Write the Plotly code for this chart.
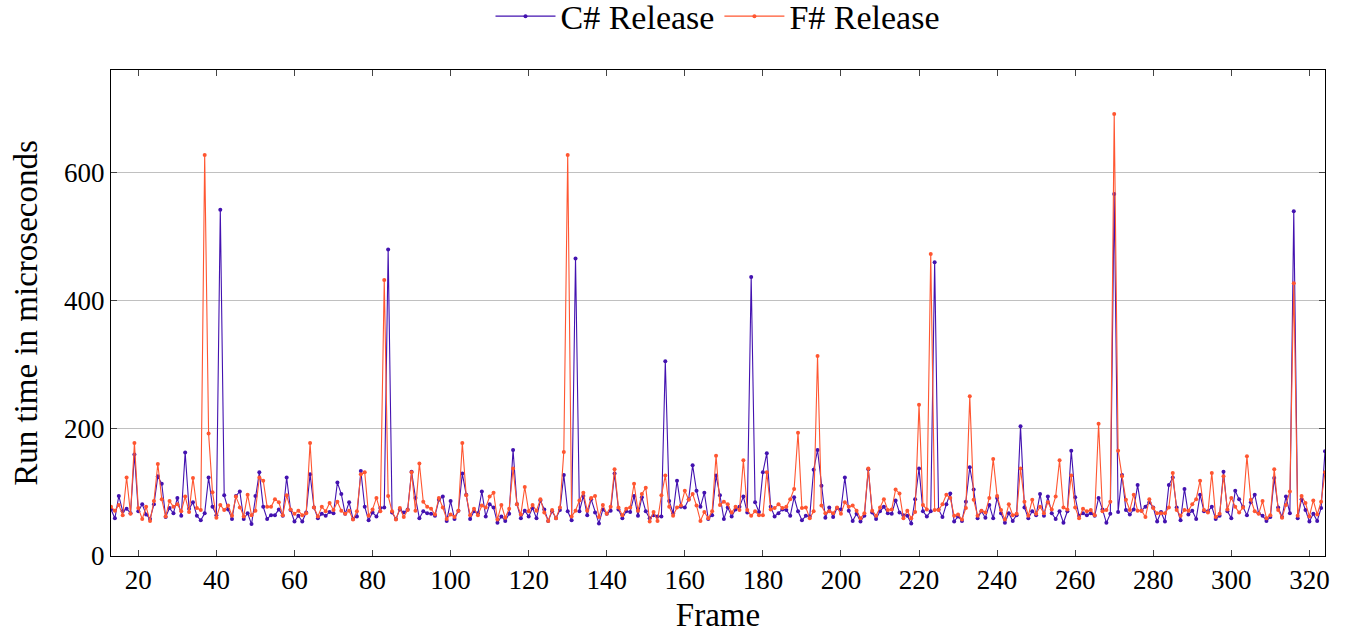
import plotly.graph_objects as go

frames = list(range(13, 325))

csharp = [
    73, 59, 94, 70, 74, 67, 159, 70, 81, 65,
    58, 81, 125, 113, 61, 75, 67, 91, 63, 162,
    74, 84, 63, 56, 67, 123, 77, 64, 542, 95,
    73, 58, 94, 101, 58, 67, 50, 94, 131, 77,
    58, 64, 64, 73, 63, 123, 72, 54, 63, 54,
    68, 128, 76, 59, 66, 63, 69, 67, 115, 97,
    66, 84, 58, 62, 133, 77, 56, 68, 62, 75,
    76, 480, 68, 58, 73, 68, 73, 132, 91, 59,
    70, 67, 66, 63, 88, 93, 55, 86, 58, 71,
    129, 96, 58, 70, 67, 101, 62, 81, 76, 52,
    62, 55, 66, 166, 81, 59, 71, 62, 75, 59,
    87, 73, 55, 70, 59, 72, 127, 70, 56, 466,
    70, 94, 64, 89, 68, 51, 73, 66, 71, 129,
    73, 59, 70, 69, 94, 63, 92, 70, 59, 64,
    62, 62, 305, 86, 67, 118, 77, 76, 89, 142,
    102, 77, 99, 58, 64, 126, 95, 58, 76, 62,
    73, 77, 93, 68, 437, 84, 69, 131, 161, 77,
    62, 67, 73, 72, 63, 92, 70, 56, 63, 62,
    135, 166, 110, 60, 76, 61, 75, 73, 123, 71,
    55, 66, 54, 63, 136, 68, 58, 70, 77, 67,
    66, 87, 68, 64, 63, 51, 89, 137, 70, 62,
    70, 460, 73, 61, 81, 98, 54, 62, 55, 85,
    139, 104, 59, 70, 60, 80, 59, 91, 67, 52,
    67, 55, 64, 203, 76, 59, 70, 64, 97, 63,
    93, 67, 58, 70, 52, 70, 165, 92, 63, 67,
    64, 67, 63, 91, 73, 52, 66, 567, 69, 127,
    72, 65, 73, 111, 71, 77, 84, 76, 54, 69,
    54, 111, 123, 76, 56, 105, 65, 71, 58, 96,
    70, 70, 77, 58, 63, 132, 70, 59, 102, 89,
    77, 64, 84, 96, 67, 63, 55, 61, 122, 76,
    61, 93, 67, 540, 59, 89, 72, 54, 66, 55,
    75, 164,
]

fsharp = [
    77, 71, 80, 64, 123, 66, 177, 75, 58, 77,
    55, 86, 144, 89, 62, 86, 77, 81, 70, 93,
    69, 122, 75, 72, 628, 192, 100, 60, 80, 72,
    79, 63, 93, 76, 62, 96, 64, 71, 123, 118,
    77, 77, 89, 84, 64, 95, 73, 66, 71, 64,
    67, 177, 76, 62, 77, 70, 83, 72, 85, 71,
    66, 71, 57, 70, 128, 131, 63, 73, 91, 70,
    432, 94, 70, 57, 75, 61, 72, 131, 71, 145,
    85, 77, 74, 65, 91, 76, 58, 65, 61, 71,
    177, 95, 64, 74, 64, 79, 76, 93, 99, 57,
    80, 60, 74, 137, 81, 65, 108, 70, 80, 71,
    89, 68, 55, 72, 59, 76, 163, 628, 62, 71,
    87, 99, 71, 91, 94, 61, 80, 66, 77, 136,
    76, 64, 74, 76, 113, 71, 97, 107, 54, 69,
    55, 95, 126, 77, 63, 76, 79, 102, 88, 97,
    79, 55, 69, 59, 70, 157, 80, 85, 81, 68,
    77, 72, 150, 72, 63, 70, 64, 64, 131, 73,
    75, 81, 75, 77, 89, 105, 193, 75, 76, 59,
    70, 313, 79, 67, 70, 67, 76, 66, 84, 77,
    79, 71, 59, 67, 137, 71, 63, 76, 89, 72,
    73, 104, 98, 59, 71, 59, 69, 237, 80, 73,
    473, 72, 72, 81, 96, 91, 63, 65, 57, 75,
    250, 88, 63, 71, 68, 91, 152, 94, 72, 57,
    81, 64, 66, 137, 85, 63, 88, 66, 77, 67,
    84, 73, 93, 150, 76, 73, 126, 76, 59, 74,
    70, 72, 64, 207, 70, 72, 85, 692, 165, 125,
    88, 72, 96, 71, 71, 61, 89, 75, 67, 67,
    67, 76, 130, 72, 63, 72, 71, 81, 89, 118,
    72, 68, 130, 61, 66, 125, 73, 91, 77, 68,
    76, 156, 88, 70, 66, 86, 59, 64, 136, 72,
    60, 80, 101, 427, 63, 94, 83, 62, 87, 65,
    85, 131,
]

x_ticks = [20, 40, 60, 80, 100, 120, 140, 160, 180, 200, 220, 240, 260, 280, 300, 320]
y_ticks = [0, 200, 400, 600]

PURPLE = "#4312B0"
ORANGE = "#FF5631"
FONT = "Liberation Serif"

fig = go.Figure()
fig.add_trace(go.Scatter(
    x=frames, y=csharp, name="C# Release", mode="lines+markers",
    line=dict(color=PURPLE, width=1.1),
    marker=dict(color=PURPLE, size=4, symbol="circle"),
))
fig.add_trace(go.Scatter(
    x=frames, y=fsharp, name="F# Release", mode="lines+markers",
    line=dict(color=ORANGE, width=1.1),
    marker=dict(color=ORANGE, size=4, symbol="circle"),
))

fig.update_layout(
    width=1349, height=640,
    margin=dict(l=111, r=24, t=70, b=84, autoexpand=False),
    paper_bgcolor="white", plot_bgcolor="white",
    font=dict(family=FONT, size=27, color="black"),
    showlegend=True,
    legend=dict(
        orientation="h", x=0.5, xanchor="center", y=1.11, yanchor="middle",
        font=dict(family=FONT, size=34), bgcolor="rgba(0,0,0,0)",
        itemwidth=60,
    ),
    xaxis=dict(
        range=[13, 324], tickmode="array", tickvals=x_ticks,
        ticks="inside", ticklen=6, tickwidth=1, tickcolor="#444",
        showline=True, linecolor="black", linewidth=1, mirror="ticks",
        showgrid=False, zeroline=False,
        title=dict(text="Frame", font=dict(family=FONT, size=33), standoff=8),
        tickfont=dict(family=FONT, size=27),
    ),
    yaxis=dict(
        range=[0, 761], tickmode="array", tickvals=y_ticks,
        ticks="inside", ticklen=6, tickwidth=1, tickcolor="#444",
        showline=True, linecolor="black", linewidth=1, mirror="ticks",
        showgrid=True, gridcolor="#c0c0c0", gridwidth=1, zeroline=False,
        title=dict(text="Run time in microseconds", font=dict(family=FONT, size=33), standoff=16),
        tickfont=dict(family=FONT, size=27),
    ),
)

fig.write_html("out.html")
